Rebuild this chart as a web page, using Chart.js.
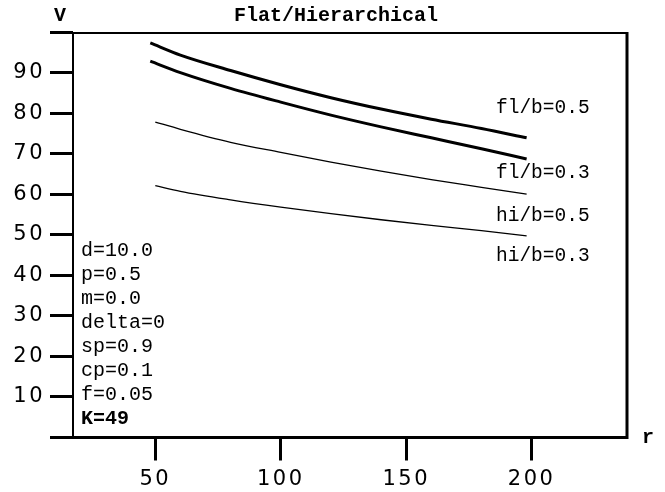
<!DOCTYPE html>
<html>
<head>
<meta charset="utf-8">
<script src="https://cdn.jsdelivr.net/npm/chart.js@4/dist/chart.umd.min.js"></script>
<style>
  html, body { margin: 0; padding: 0; background: #fff; }
  #wrap { width: 665px; height: 492px; position: relative; }
</style>
</head>
<body>
<div id="wrap"><canvas id="myChart"></canvas></div>
<script>
// values
var rFl = [48, 60, 80, 100, 120, 140, 160, 180, 198];
var rHi = [50, 60, 80, 100, 120, 140, 160, 180, 198];
var fl05 = [97.3, 94.3, 90.5, 87.0, 83.8, 81.0, 78.5, 76.2, 73.9];
var fl03 = [92.8, 90.0, 86.1, 82.7, 79.5, 76.6, 73.9, 71.2, 68.7];
var hi05 = [77.8, 76.0, 72.8, 70.3, 67.9, 65.7, 63.6, 61.7, 60.0];
var hi03 = [62.1, 60.7, 58.6, 56.8, 55.2, 53.7, 52.3, 51.0, 49.7];

var xTicks = [50, 100, 150, 200];
var yTicks = [0, 10, 20, 30, 40, 50, 60, 70, 80, 90, 100];
var curveLabels = ['fl/b=0.5', 'fl/b=0.3', 'hi/b=0.5', 'hi/b=0.3'];
var params = ['d=10.0', 'p=0.5', 'm=0.0', 'delta=0', 'sp=0.9', 'cp=0.1', 'f=0.05', 'K=49'];

function pts(xs, ys) {
  return xs.map(function (x, i) { return {x: x, y: ys[i]}; });
}

var mono = '"Liberation Mono", monospace';

var decor = {
  id: 'decor',
  beforeDraw: function (chart) {
    chart.ctx.letterSpacing = '2.5px';
  },
  afterDraw: function (chart) {
    var ctx = chart.ctx, a = chart.chartArea;
    ctx.save();
    ctx.letterSpacing = '0px';
    ctx.strokeStyle = '#000';
    // frame
    ctx.lineWidth = 2;
    ctx.beginPath();
    ctx.moveTo(a.left, a.bottom); ctx.lineTo(a.left, a.top + 1); ctx.lineTo(a.right, a.top + 1);
    ctx.stroke();
    ctx.lineWidth = 3;
    ctx.beginPath();
    ctx.moveTo(a.right, a.top); ctx.lineTo(a.right, a.bottom); ctx.lineTo(a.left, a.bottom);
    ctx.stroke();

    ctx.fillStyle = '#000';
    ctx.textBaseline = 'middle';
    ctx.textAlign = 'center';
    ctx.font = 'bold 20px ' + mono;
    ctx.fillText('Flat/Hierarchical', 336, 16);
    ctx.fillText('V', 60, 16);
    ctx.textAlign = 'left';
    ctx.fillText('r', 642, 438);

    ctx.font = '19.5px ' + mono;
    var cy = [108, 173, 216, 256];
    curveLabels.forEach(function (t, i) { ctx.fillText(t, 496, cy[i]); });

    params.forEach(function (t, i) {
      ctx.font = (i === params.length - 1 ? 'bold ' : '') + '20px ' + mono;
      ctx.fillText(t, 81, 251 + i * 24);
    });
    ctx.restore();
  }
};

var ctx = document.getElementById('myChart').getContext('2d');
var myChart = new Chart(ctx, {
  type: 'scatter',
  data: {
    datasets: [
      { label: curveLabels[0], data: pts(rFl, fl05), borderWidth: 3 },
      { label: curveLabels[1], data: pts(rFl, fl03), borderWidth: 3 },
      { label: curveLabels[2], data: pts(rHi, hi05), borderWidth: 1.3 },
      { label: curveLabels[3], data: pts(rHi, hi03), borderWidth: 1.3 }
    ].map(function (d) {
      d.showLine = true;
      d.borderColor = '#000';
      d.backgroundColor = '#000';
      d.pointRadius = 0;
      d.cubicInterpolationMode = 'monotone';
      return d;
    })
  },
  options: {
    responsive: true,
    maintainAspectRatio: false,
    animation: false,
    layout: { padding: { left: 0, top: 32, right: 38, bottom: 0 } },
    plugins: { legend: { display: false }, tooltip: { enabled: false } },
    scales: {
      x: {
        type: 'linear', min: 17.2, max: 238,
        afterBuildTicks: function (s) { s.ticks = xTicks.map(function (v) { return {value: v}; }); },
        afterFit: function (s) { s.height = 54.5; },
        grid: { drawOnChartArea: false, tickLength: 23, tickWidth: 3, tickColor: '#000' },
        border: { display: false },
        ticks: { color: '#000', padding: 6, maxRotation: 0, font: { family: '"DejaVu Sans"', size: 21 } }
      },
      y: {
        type: 'linear', min: 0, max: 100,
        afterBuildTicks: function (s) { s.ticks = yTicks.map(function (v) { return {value: v}; }); },
        afterFit: function (s) { s.width = 73; },
        grid: { drawOnChartArea: false, tickLength: 23, tickWidth: 3, tickColor: '#000' },
        border: { display: false },
        ticks: {
          color: '#000', padding: 5, font: { family: '"DejaVu Sans"', size: 21 },
          callback: function (v) { return (v === 0 || v === 100) ? '' : v; }
        }
      }
    }
  },
  plugins: [decor]
});
</script>
</body>
</html>
